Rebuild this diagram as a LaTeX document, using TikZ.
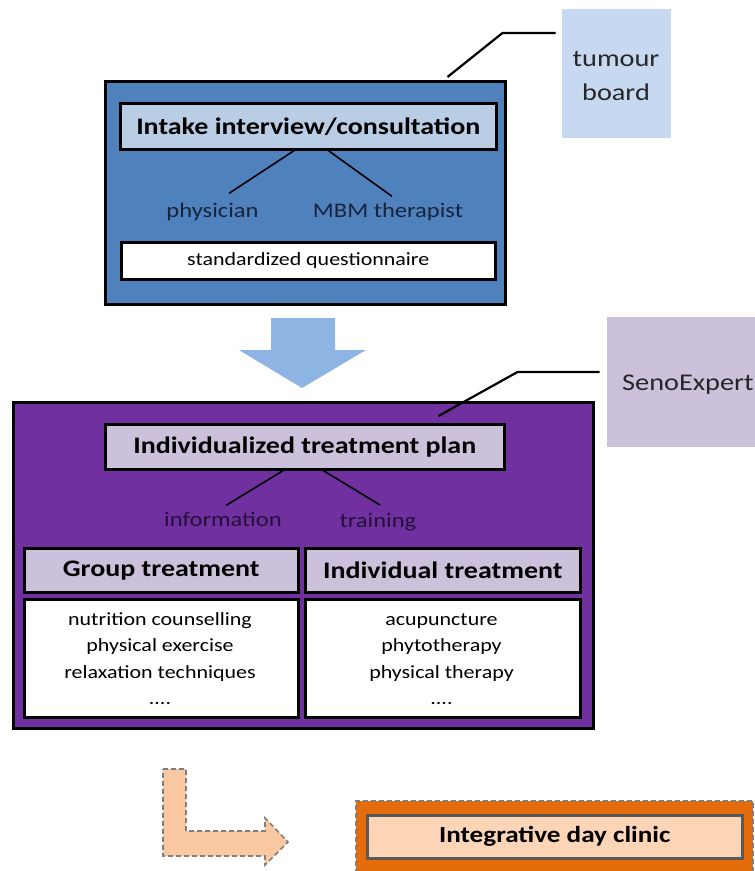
\documentclass[tikz,border=0pt]{standalone}
\usepackage{fontspec}
\usepackage{graphicx}
\setmainfont{Carlito}
\newcommand{\wide}[1]{\scalebox{1.18}[1]{#1}}
\definecolor{outerblue}{HTML}{4F81BD}
\definecolor{titleblue}{HTML}{B9CDE5}
\definecolor{tumourblue}{HTML}{C6D9F1}
\definecolor{arrowblue}{HTML}{8EB4E3}
\definecolor{navytext}{HTML}{17243F}
\definecolor{outerpurple}{HTML}{7030A0}
\definecolor{lilac}{HTML}{CCC1DA}
\definecolor{purpletext}{HTML}{24103A}
\definecolor{orangeout}{HTML}{E46C0A}
\definecolor{peach}{HTML}{FBD5B5}
\definecolor{lightorange}{HTML}{FAC8A0}
\definecolor{dashgray}{HTML}{7F7F7F}
\definecolor{innergray}{HTML}{595959}
\begin{document}
\begin{tikzpicture}[x=1pt,y=-1pt,
  box/.style={draw=black, line width=2.5pt, inner sep=0pt, anchor=north west},
  boldtitle/.style={font=\fontsize{23.7}{28}\selectfont\bfseries},
  lbl/.style={font=\fontsize{20.8}{24}\selectfont, inner sep=0pt, anchor=base},
  listtxt/.style={font=\fontsize{18.6}{26.5}\selectfont, inner sep=0pt, anchor=base},
  sidetxt/.style={font=\fontsize{24}{34}\selectfont, inner sep=0pt, text=black!85},
  leader/.style={draw=black, line width=2.2pt},
  branch/.style={draw=black, line width=1.6pt}
]
\useasboundingbox (0,0) rectangle (755,871);

% ---------- tumour board ----------
\node[anchor=north west, fill=tumourblue, minimum width=109pt, minimum height=129pt, inner sep=0pt] (tumour) at (562,9) {};
\node[sidetxt, anchor=base] (tumourtxt) at (616,66) {\wide{\begin{tabular}[t]{@{}c@{}}tumour\\board\end{tabular}}};

% ---------- intake box ----------
\node[box, fill=outerblue, minimum width=400pt, minimum height=223pt] (intakebg) at (104,80) {};
\node[box, fill=titleblue, minimum width=376pt, minimum height=46pt, boldtitle] (intake) at (119,102) {\wide{Intake interview/consultation}};
\node[lbl, text=navytext] (phys) at (212.5,217) {\wide{physician}};
\node[lbl, text=navytext] (mbm) at (388,217) {\wide{MBM therapist}};
\node[box, fill=white, minimum width=374pt, minimum height=37pt, font=\fontsize{18.6}{22}\selectfont] (quest) at (120,241) {\wide{standardized questionnaire}};
\draw[branch] ([xshift=-14pt]intake.south) -- ([xshift=16.5pt,yshift=9pt]phys.north);
\draw[branch] ([xshift=20pt]intake.south) -- ([xshift=4pt,yshift=6pt]mbm.north);
\draw[leader] ([xshift=-59pt,yshift=3pt]intakebg.north east) -- ++(55,-44) -- ++(53,0);

% ---------- big arrow ----------
\fill[arrowblue] (271,318) -- (335,318) -- (335,350) -- (366,350) -- (302,388) -- (239,350) -- (271,350) -- cycle;

% ---------- SenoExpert ----------
\node[anchor=north west, fill=lilac, minimum width=153pt, minimum height=130pt, inner sep=0pt] (seno) at (607,317) {};
\node[sidetxt, anchor=base west] (senotxt) at (622,390) {\wide{SenoExpert}};

% ---------- treatment plan box ----------
\node[box, fill=outerpurple, minimum width=580pt, minimum height=326pt] (planbg) at (12,401) {};
\draw[leader] ([xshift=-156pt,yshift=-15pt]planbg.north east) -- ++(79,-44) -- ++(82,0);
\node[box, fill=lilac, minimum width=399pt, minimum height=45pt, boldtitle] (plan) at (104,423) {\wide{Individualized treatment plan}};
\node[lbl, text=purpletext] (info) at (223,526) {\wide{information}};
\node[lbl, text=purpletext] (train) at (378,527) {\wide{training}};
\draw[branch] ([xshift=-21.5pt]plan.south) -- ([xshift=3pt,yshift=6pt]info.north);
\draw[branch] ([xshift=18.5pt]plan.south) -- ([xshift=2pt,yshift=7.5pt]train.north);

\node[box, fill=lilac, minimum width=274pt, minimum height=44pt, boldtitle] (group) at (23,547) {\wide{Group treatment}};
\node[box, fill=lilac, minimum width=275pt, minimum height=44pt, boldtitle] (indiv) at (304,547) {\wide{Individual treatment}};
\node[box, fill=white, minimum width=274pt, minimum height=118pt] (grouplist) at (23,598) {};
\node[box, fill=white, minimum width=275pt, minimum height=118pt] (indivlist) at (304,598) {};
\node[listtxt] (grouptxt) at (160,625)
  {\wide{\begin{tabular}[t]{@{}c@{}}nutrition counselling\\physical exercise\\relaxation techniques\\....\end{tabular}}};
\node[listtxt] (indivtxt) at (441.5,625)
  {\wide{\begin{tabular}[t]{@{}c@{}}acupuncture\\phytotherapy\\physical therapy\\....\end{tabular}}};

% ---------- L arrow ----------
\draw[fill=lightorange, draw=dashgray, line width=1.6pt, dash pattern=on 5pt off 3pt]
  (163,769) -- (186,769) -- (186,831) -- (265,831) -- (265,818) -- (288,842) -- (265,865) -- (265,856) -- (163,856) -- cycle;

% ---------- integrative day clinic ----------
\node[anchor=north west, fill=orangeout, draw=dashgray, line width=1.6pt, dash pattern=on 5pt off 3pt,
      minimum width=397pt, minimum height=90pt, inner sep=0pt] (clinicbg) at (355,800) {};
\node[anchor=north west, fill=peach, draw=innergray, line width=2.5pt, minimum width=375pt, minimum height=43pt,
      inner sep=0pt, font=\fontsize{23}{27}\selectfont\bfseries] (clinic) at (366,814) {\wide{Integrative day clinic}};
\end{tikzpicture}
\end{document}
